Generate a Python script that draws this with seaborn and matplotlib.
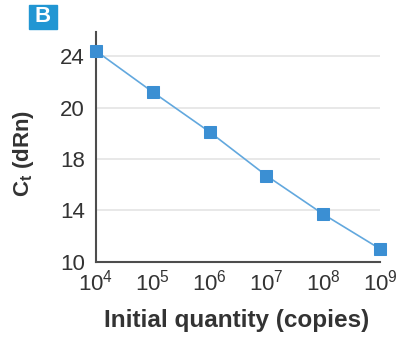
import numpy as np
import pandas as pd
import seaborn as sns
import matplotlib.pyplot as plt
from matplotlib.patches import Rectangle

# data
copies = [1e4, 1e5, 1e6, 1e7, 1e8, 1e9]
ct = [24.4, 21.2, 19.05, 16.7, 13.7, 11.0]
ytick_vals = [10, 14, 18, 20, 24]

df = pd.DataFrame({'copies': copies, 'ct': ct})

sns.set_style('white')
plt.rcParams['font.family'] = ['Liberation Sans', 'DejaVu Sans']
plt.rcParams['mathtext.fontset'] = 'custom'
plt.rcParams['mathtext.rm'] = 'Liberation Sans'
plt.rcParams['mathtext.bf'] = 'Liberation Sans:bold'
plt.rcParams['mathtext.default'] = 'regular'

# the original y axis puts its labels at equal spacing (10,14,18,20,24)
lev = [6, 10, 14, 18, 20, 24, 28]
pos = [-1, 0, 1, 2, 3, 4, 5]
def fwd(y):
    return np.interp(y, lev, pos)
def inv(p):
    return np.interp(p, pos, lev)

fig = plt.figure(figsize=(3.97, 3.38), dpi=100)
ax = fig.add_axes([96/397, 1 - 261.7/338, 284/397, 230/338])
ax.set_yscale('function', functions=(fwd, inv))
ax.set_xscale('log')

for v in ytick_vals[1:]:
    ax.axhline(v, color='#e4e4e4', lw=1.2, zorder=0)

sns.lineplot(data=df, x='copies', y='ct', ax=ax, color='#62a8de', lw=1.2,
             marker='s', markersize=8, markerfacecolor='#3b8fd3',
             markeredgecolor='#3b8fd3', clip_on=False, zorder=3)

ax.set_xlim(1e4, 1e9)
ax.set_ylim(10, 25.9)
ax.set_yticks(ytick_vals)
ax.set_yticklabels([str(v) for v in ytick_vals])
ax.set_xticks(copies)
ax.set_xticklabels([r'$10^{%d}$' % int(np.log10(c)) for c in copies])
ax.minorticks_off()

for s in ['top', 'right']:
    ax.spines[s].set_visible(False)
for s in ['left', 'bottom']:
    ax.spines[s].set_color('#4d4d4d')
    ax.spines[s].set_linewidth(1.5)

ax.tick_params(axis='both', which='major', direction='out', length=4, width=1.2,
               color='#777777', labelsize=16, labelcolor='#333333')
ax.tick_params(axis='y', pad=4)
ax.tick_params(axis='x', pad=2)

ax.set_xlabel('Initial quantity (copies)', fontsize=17.5, fontweight='bold',
              color='#333333', va='center')
ax.xaxis.set_label_coords(0.495, -0.255)
ax.set_ylabel(r'$\mathbf{C_t}$ (dRn)', fontsize=16, fontweight='bold',
              color='#333333', va='center')
ax.yaxis.set_label_coords(-0.254, 0.47)

# panel letter
fig.patches.append(Rectangle((29/397, 1 - 29/338), 28/397, 24/338,
                             transform=fig.transFigure, color='#2196d3'))
fig.text(43/397, 1 - 17/338, 'B', color='white', fontsize=16, fontweight='bold',
         ha='center', va='center')

fig.savefig('out.png', dpi=100)
